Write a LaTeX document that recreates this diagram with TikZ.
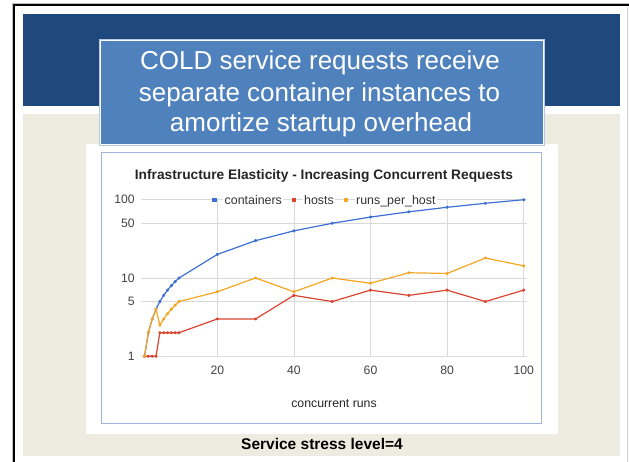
\documentclass[tikz,border=0pt]{standalone}
\usepackage{fontspec}
\setmainfont{Liberation Sans}
\usetikzlibrary{plotmarks}

\definecolor{bandblue}{HTML}{1F497D}
\definecolor{boxblue}{HTML}{4F81BD}
\definecolor{boxedge}{HTML}{B8C8DE}
\definecolor{paper}{HTML}{EEECE1}
\definecolor{chartframe}{HTML}{9DB5DC}
\definecolor{gridgray}{HTML}{DADADA}
\definecolor{ticktext}{HTML}{444444}
\definecolor{contblue}{HTML}{3E6FD2}
\definecolor{hostred}{HTML}{DA4430}
\definecolor{runorange}{HTML}{F5A623}

\tikzset{
  heading/.style={text=white, inner sep=0pt, anchor=base, font=\fontsize{26}{30}\selectfont},
  series/.style={line width=1.2pt, line join=round, mark=*, mark size=1pt},
  gridline/.style={gridgray, line width=0.6pt},
  ticklabel/.style={text=ticktext, inner sep=0pt, font=\fontsize{12.2}{14}\selectfont},
  keybox/.style={minimum size=4.5pt, inner sep=0pt},
  keytext/.style={text=black!80, fill=white, inner xsep=1.5pt, inner ysep=1pt, anchor=base west,
    font=\fontsize{12.4}{14}\selectfont},
}

\begin{document}
\begin{tikzpicture}[x=1pt, y=-1pt]
\useasboundingbox (0,0) rectangle (629,462);
\fill[white] (0,0) rectangle (629,462);

% slide frame
\draw[gray!50, line width=0.6pt] (12,462) -- (12,3) -- (629,3);
\draw[black, line width=2pt] (14,462) -- (14,5) -- (629,5);
\draw[gray!35, line width=0.6pt] (627.6,7) -- (627.6,462);

% header band, body and chart card
\fill[bandblue] (23,14) rectangle (620,106);
\fill[paper] (23,114) rectangle (620,456);
\fill[white] (86,144) rectangle (558,434);
\draw[chartframe, line width=0.9pt] (101,152) rectangle (541,423);

% title box
\fill[boxedge] (99,39) rectangle (545,146);
\fill[white] (99.8,39.8) rectangle (544.2,145.2);
\fill[boxblue] (101,41) rectangle (543,144);
\node[heading] (heading1) at (320,70) {COLD service requests receive};
\node[heading] (heading2) at (319.5,101.7) {separate container instances to};
\node[heading] (heading3) at (321,131.5) {amortize startup overhead};

% chart title
\node[inner sep=0pt, anchor=base, font=\bfseries\fontsize{13.75}{16}\selectfont, text=black!85]
  (charttitle) at (324,179.5) {Infrastructure Elasticity - Increasing Concurrent Requests};

% plot area: x = runs, y = log10(value)
\begin{scope}[shift={(140.7,356.3)}, x=3.83pt, y=78.3pt]
  \foreach \v in {1,5,10,50,100} {
    \draw[gridline] (0,{log10(\v)}) -- (100.9,{log10(\v)});
    \node[ticklabel, anchor=east] (ylab\v) at (-1.5,{log10(\v)}) {\v};
  }
  \foreach \n in {20,40,...,100} {
    \draw[gridline] (\n,0) -- (\n,2);
    \node[ticklabel] (xlab\n) at (\n,-0.175) {\n};
  }

  % containers
  \draw[series, contblue, mark options={fill=contblue}]
    plot[samples at={1,2,...,10,20,30,...,100}] (\x,{log10(\x)});
  % hosts
  \draw[series, hostred, mark options={fill=hostred}] plot coordinates {
    (1,0) (2,0) (3,0) (4,0)
    (5,{log10(2)}) (6,{log10(2)}) (7,{log10(2)}) (8,{log10(2)}) (9,{log10(2)}) (10,{log10(2)})
    (20,{log10(3)}) (30,{log10(3)}) (40,{log10(6)}) (50,{log10(5)}) (60,{log10(7)})
    (70,{log10(6)}) (80,{log10(7)}) (90,{log10(5)}) (100,{log10(7)})};
  % runs_per_host
  \draw[series, runorange, mark options={fill=runorange}] plot coordinates {
    (1,0) (2,{log10(2)}) (3,{log10(3)}) (4,{log10(4)})
    (5,{log10(5/2)}) (6,{log10(6/2)}) (7,{log10(7/2)}) (8,{log10(8/2)}) (9,{log10(9/2)}) (10,{log10(10/2)})
    (20,{log10(20/3)}) (30,{log10(30/3)}) (40,{log10(40/6)}) (50,{log10(50/5)}) (60,{log10(60/7)})
    (70,{log10(70/6)}) (80,{log10(80/7)}) (90,{log10(90/5)}) (100,{log10(100/7)})};
\end{scope}

% legend, over the top gridline
\node[keybox, fill=contblue] (keycont) at (214.7,200) {};
\node[keytext] (keycontlabel) at (223,204.5) {containers};
\node[keybox, fill=hostred] (keyhost) at (294.2,200) {};
\node[keytext] (keyhostlabel) at (302.5,204.5) {hosts};
\node[keybox, fill=runorange] (keyrun) at (346,200) {};
\node[keytext] (keyrunlabel) at (354.5,204.5) {runs\_per\_host};

\node[inner sep=0pt, anchor=base, text=black!85, font=\fontsize{12.3}{14}\selectfont]
  (xtitle) at (334,407) {concurrent runs};
\node[inner sep=0pt, anchor=base, font=\bfseries\fontsize{15.5}{18}\selectfont]
  (caption) at (322,449) {Service stress level=4};
\end{tikzpicture}
\end{document}
